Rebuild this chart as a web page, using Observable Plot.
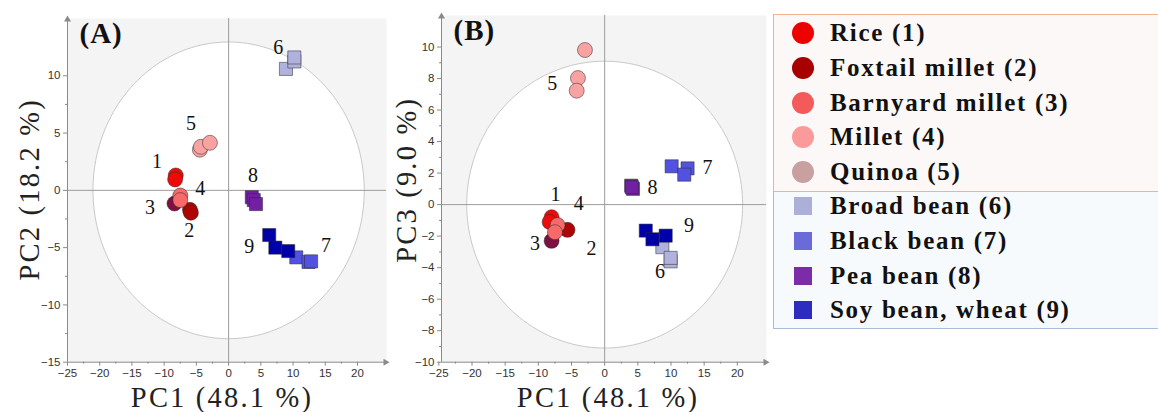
<!DOCTYPE html>
<html><head><meta charset="utf-8">
<script src="https://cdn.jsdelivr.net/npm/d3@7"></script>
<script src="https://cdn.jsdelivr.net/npm/@observablehq/plot@0.6"></script>
<style>
  body{margin:0;background:#fff;width:1158px;height:412px;overflow:hidden;position:relative;font-family:"Liberation Serif",serif}
  #a{position:absolute;left:0;top:0}
  #b{position:absolute;left:385px;top:0}
  #legend{position:absolute;left:773px;top:14px;width:400px}
  .sec{position:relative;box-sizing:border-box}
  .s1{height:178px;border:1.5px solid #f3b18e;background:#fcf8f7;padding-top:1px;z-index:2}
  .s2{height:140px;border:1.5px solid #aabcd9;border-top:none;background:#f7fafd;padding-top:0;margin-top:-1.5px}
  .row{position:relative;height:34.7px;display:flex;align-items:center}
  .s2 .row:first-child{margin-top:-3px}
  .sym{position:absolute}
  .txt{position:absolute;left:56px;font-weight:bold;font-size:25px;letter-spacing:1.7px;color:#111;white-space:nowrap}
</style></head><body>
<div id="a"></div><div id="b"></div><div id="legend"></div>
<script>
// ---------- data ----------
const groupNames = ["Rice (1)", "Foxtail millet (2)", "Barnyard millet (3)", "Millet (4)", "Quinoa (5)",
                    "Broad bean (6)", "Black bean (7)", "Pea bean (8)", "Soy bean, wheat (9)"];
const legendColors = ["#ee0000", "#a80000", "#f55a5a", "#fb9a9a", "#c9a0a0",
                      "#acb0d8", "#6a6ad8", "#7d2ca8", "#2c2cc0"];
const plotColors   = ["#ef0a0a", "#b00404", "#7d1040", "#f76a6a", "#f9a2a2",
                      "#b0b1dc", "#5252e0", "#7020a0", "#0000aa"];
const groupShapes  = ["circle", "circle", "circle", "circle", "circle", "square", "square", "square", "square"];

// scores panel A: [group, PC1, PC2]
const scoresA = [
  [1, -8.2, 1.3], [1, -8.3, 0.95],
  [3, -8.4, -1.15],
  [2, -6.0, -1.7], [2, -5.85, -1.95],
  [4, -7.5, -0.45], [4, -7.5, -0.85],
  [5, -4.46, 3.55], [5, -4.3, 3.8], [5, -2.9, 4.15],
  [6, 8.9, 10.6], [6, 10.2, 11.25], [6, 10.2, 11.6],
  [8, 3.6, -0.6], [8, 3.9, -0.85], [8, 4.25, -1.2],
  [7, 10.5, -5.85], [7, 12.4, -6.25], [7, 12.8, -6.2],
  [9, 6.3, -3.9], [9, 7.25, -5.0], [9, 9.25, -5.3]
];
// scores panel B: [group, PC1, PC3]
const scoresB = [
  [5, -2.97, 9.81], [5, -4.03, 8.03], [5, -4.22, 7.23],
  [3, -8.0, -2.3],
  [2, -5.6, -1.6],
  [1, -8.0, -0.8], [1, -8.3, -1.1],
  [4, -7.1, -1.3], [4, -7.5, -1.75],
  [7, 10.1, 2.43], [7, 12.5, 2.3], [7, 12.0, 1.9],
  [8, 4.0, 1.2], [8, 4.27, 1.0], [8, 4.1, 1.1],
  [6, 8.7, -2.7], [6, 9.95, -3.6], [6, 9.95, -3.38],
  [9, 6.2, -1.65], [9, 7.2, -2.2], [9, 9.2, -1.97]
];
// draw order (groups)
const orderA = [1, 3, 2, 4, 5, 6, 8, 7, 9];
const orderB = [5, 3, 2, 1, 4, 7, 8, 6, 9];

// group number labels: [label, PC1, PCy]
const labelsA = [["1", -11.1, 2.5], ["2", -6.1, -3.5], ["3", -12.2, -1.5], ["4", -4.4, 0.15], ["5", -5.85, 5.8],
                 ["6", 7.7, 12.5], ["7", 15.1, -4.8], ["8", 3.8, 1.3], ["9", 3.2, -4.95]];
const labelsB = [["1", -7.4, 0.65], ["2", -2.0, -2.8], ["3", -10.5, -2.5], ["4", -3.9, 0.05], ["5", -7.9, 7.65],
                 ["6", 8.35, -4.23], ["7", 15.5, 2.37], ["8", 7.2, 1.1], ["9", 12.7, -1.33]];

const xTicks = [-25, -20, -15, -10, -5, 0, 5, 10, 15, 20];
const yTicksA = [-15, -10, -5, 0, 5, 10];
const yTicksB = [-10, -8, -6, -4, -2, 0, 2, 4, 6, 8, 10];

const xTitle = "PC1 (48.1 %)";

// Hotelling ellipse radii
const ellipseA = {rx: 21.05, ry: 12.95};
const ellipseB = {rx: 20.8, ry: 9.1};

function panel(o) {
  const ell = d3.range(0, 361, 2).map(a => ({x: o.ellipse.rx * Math.cos(a * Math.PI / 180), y: o.ellipse.ry * Math.sin(a * Math.PI / 180)}));
  const dots = o.order.map(g => Plot.dot(o.scores.filter(d => d[0] === g), {
    x: d => d[1], y: d => d[2], symbol: groupShapes[g - 1], r: groupShapes[g - 1] === "square" ? 7.4 : 7.5,
    fill: plotColors[g - 1], stroke: "#2a2a2a", strokeOpacity: 0.5, strokeWidth: 1
  }));
  const minor = (ticks, step) => ticks.slice(0, -1).map(t => t + step);
  const svg = Plot.plot({
    width: o.width, height: 412,
    marginLeft: o.marginLeft, marginRight: o.marginRight, marginTop: o.marginTop, marginBottom: 50.3,
    x: {domain: o.xDomain}, y: {domain: o.yDomain},
    style: {background: "transparent", overflow: "visible"},
    marks: [
      Plot.frame({fill: "#f4f4f4", stroke: "none"}),
      Plot.line(ell, {x: "x", y: "y", fill: "white", stroke: "#c9c9c9", strokeWidth: 1}),
      Plot.ruleX([0], {stroke: "#9c9c9c"}),
      Plot.ruleY([0], {stroke: "#9c9c9c"}),
      Plot.ruleX([o.xDomain[0]], {stroke: "#8a8a8a"}),
      Plot.ruleY([o.yDomain[0]], {stroke: "#8a8a8a"}),
      Plot.dot([0], {x: o.xDomain[0], y: o.yDomain[1], symbol: "triangle", r: 2.6, fill: "#8a8a8a", dy: 1}),
      Plot.dot([0], {x: o.xDomain[1], y: o.yDomain[0], symbol: "triangle", r: 2.6, fill: "#8a8a8a", rotate: 90, dx: -1}),
      Plot.axisX(xTicks, {tickSize: 4, tickPadding: 3, fontSize: 11.5, fontFamily: "Liberation Sans, Arial, sans-serif", stroke: "#8a8a8a", fill: "#333", label: null}),
      Plot.axisX(minor(xTicks, 2.5), {tickSize: 2, text: null, stroke: "#8a8a8a", label: null}),
      Plot.axisY(o.yTicks, {tickSize: 4, tickPadding: 3, fontSize: 11.5, fontFamily: "Liberation Sans, Arial, sans-serif", stroke: "#8a8a8a", fill: "#333", label: null}),
      Plot.axisY(minor(o.yTicks, o.yMinor), {tickSize: 2, text: null, stroke: "#8a8a8a", label: null}),
      ...dots,
      Plot.text(o.labels, {x: d => d[1], y: d => d[2], text: d => d[0], fontSize: 20, fontFamily: "Liberation Serif, serif", fill: "#111"}),
      Plot.text([o.tag], {text: d => d, frameAnchor: "top-left", textAnchor: "start", lineAnchor: "top", dx: 12, dy: 4, fontSize: 29, fontWeight: "bold", fontFamily: "Liberation Serif, serif", fill: "#111"}),
      Plot.text([xTitle], {text: d => d, frameAnchor: "bottom", textAnchor: "middle", lineAnchor: "bottom", dy: 45, dx: o.xTitleDx, fontSize: 28.5, fontFamily: "Liberation Serif, serif", fill: "#222"}),
      Plot.text([o.yTitle], {text: d => d, frameAnchor: "left", textAnchor: "middle", lineAnchor: "middle", rotate: -90, dx: o.yTitleDx, dy: o.yTitleDy, fontSize: 28.5, fontFamily: "Liberation Serif, serif", fill: "#222"})
    ]
  });
  // wider letter spacing for the serif axis titles and panel tag
  d3.select(svg).selectAll("text").each(function() {
    const t = this.textContent;
    if (t === xTitle || t === o.yTitle) this.style.letterSpacing = "2.2px";
    if (t === o.tag) this.style.letterSpacing = "1px";
  });
  return svg;
}

document.getElementById("a").append(panel({
  scores: scoresA, order: orderA, labels: labelsA, ellipse: ellipseA,
  xDomain: [-25, 24.5], yDomain: [-15, 15], yTicks: yTicksA, yMinor: 2.5,
  width: 388, marginLeft: 67, marginRight: 2, marginTop: 18,
  tag: "(A)", yTitle: "PC2 (18.2 %)", xTitleDx: -5, yTitleDx: -38, yTitleDy: -1
}));
document.getElementById("b").append(panel({
  scores: scoresB, order: orderB, labels: labelsB, ellipse: ellipseB,
  xDomain: [-24.6, 24.4], yDomain: [-10, 12], yTicks: yTicksB, yMinor: 1,
  width: 385, marginLeft: 56, marginRight: 4, marginTop: 15,
  tag: "(B)", yTitle: "PC3 (9.0 %)", xTitleDx: 4, yTitleDx: -35, yTitleDy: -9
}));

// ---------- legend ----------
const legend = d3.select("#legend");
const sections = [[0, 5, "sec s1"], [5, 9, "sec s2"]];
sections.forEach(([i0, i1, cls]) => {
  const sec = legend.append("div").attr("class", cls);
  d3.range(i0, i1).forEach(i => {
    const row = sec.append("div").attr("class", "row");
    const circle = groupShapes[i] === "circle";
    const size = circle ? 22 : 18;
    row.append("div").attr("class", "sym")
      .style("left", (29 - size / 2) + "px")
      .style("width", size + "px").style("height", size + "px")
      .style("border-radius", circle ? "50%" : "0")
      .style("background", legendColors[i]);
    row.append("div").attr("class", "txt").text(groupNames[i]);
  });
});
</script>
</body></html>
